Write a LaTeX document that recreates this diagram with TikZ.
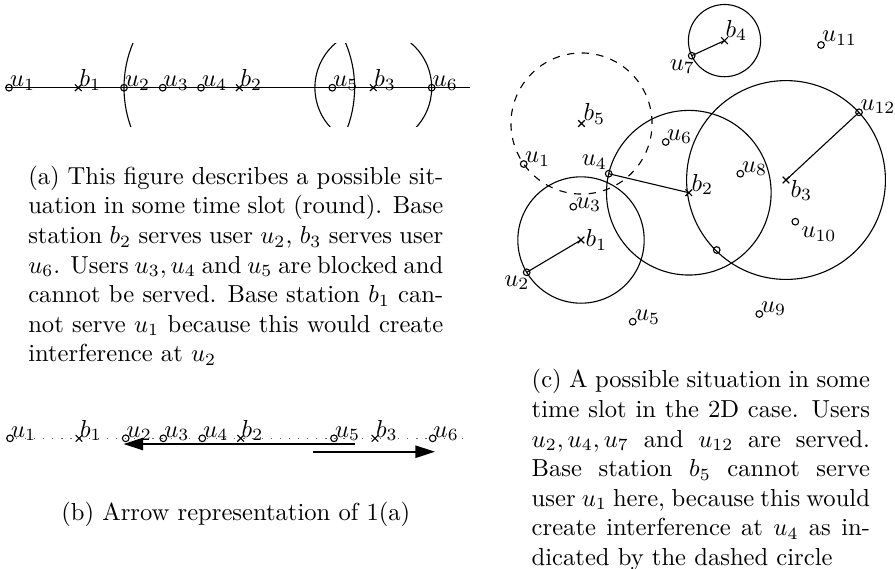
\documentclass[tikz,border=0pt]{standalone}
\usetikzlibrary{arrows.meta,shapes.misc,through}
\begin{document}
\begin{tikzpicture}[x=0.4065pt,y=-0.4065pt,line width=0.45pt,
  user/.style={circle,draw,inner sep=0pt,outer sep=0pt,minimum size=2.7pt,line width=0.45pt},
  bs/.style={cross out,draw,inner sep=0pt,outer sep=0pt,minimum size=2.7pt,line width=0.45pt},
  lab/.style={anchor=base west,inner sep=0pt,outer sep=0pt},
  labr/.style={anchor=base east,inner sep=0pt,outer sep=0pt},
  rng/.style={draw,line width=0.45pt},
  dotline/.style={line width=0.5pt,dash pattern=on 0.5pt off 3.2pt,gray!80!black},
  bigarrow/.style={line width=0.7pt,-{Triangle[length=8pt,width=5pt]}},
  capt/.style={anchor=north west,inner sep=0pt,outer sep=0pt,align=justify}]
\useasboundingbox (0,0) rectangle (895,568);

% ---------------- (a) ----------------
\coordinate (al) at (5,87.7);
\coordinate (ar) at (470,87.7);
\draw (al) -- (ar);
\node[user] (a-u1) at (9,87.7) {};
\node[bs]   (a-b1) at (78.3,87.7) {};
\node[user] (a-u2) at (124,87.7) {};
\node[user] (a-u3) at (162.7,87.7) {};
\node[user] (a-u4) at (201,87.7) {};
\node[bs]   (a-b2) at (239.3,87.7) {};
\node[user] (a-u5) at (332.3,87.7) {};
\node[bs]   (a-b3) at (373.3,87.7) {};
\node[user] (a-u6) at (431.7,87.7) {};
\node[lab] (a-u1l) at (10,86.5) {$u_1$};
\node[lab] (a-b1l) at (79.5,86.5) {$b_1$};
\node[lab] (a-u2l) at (125,86.5) {$u_2$};
\node[lab] (a-u3l) at (163.7,86.5) {$u_3$};
\node[lab] (a-u4l) at (202,86.5) {$u_4$};
\node[lab] (a-b2l) at (240.5,86.5) {$b_2$};
\node[lab] (a-u5l) at (333.3,86.5) {$u_5$};
\node[lab] (a-b3l) at (374.3,86.5) {$b_3$};
\node[lab] (a-u6l) at (432.7,86.5) {$u_6$};
\begin{scope}
  \clip (0,43.3) rectangle (480,126.7);
  \node[rng,circle through={(a-u2)}] (a-rb2) at (a-b2) {};
  \node[rng,circle through={(a-u6)}] (a-rb3) at (a-b3) {};
\end{scope}
\node[capt,text width=168.7pt] (capa) at (28.3,166)
  {(a) This figure describes a possible situation in some time slot (round). Base station $b_2$ serves user $u_2$, $b_3$ serves user $u_6$. Users $u_3, u_4$ and $u_5$ are blocked and cannot be served. Base station $b_1$ cannot serve $u_1$ because this would create interference at $u_2$};

% ---------------- (b) ----------------
\coordinate (bl) at (6.7,438.3);
\coordinate (br) at (465,438.3);
\draw[dotline] (bl) -- (br);
\node[user] (b-u1) at (10,438.3) {};
\node[bs]   (b-b1) at (79,438.3) {};
\node[user] (b-u2) at (125.7,438.3) {};
\node[user] (b-u3) at (163.3,438.3) {};
\node[user] (b-u4) at (202.3,438.3) {};
\node[bs]   (b-b2) at (240.7,438.3) {};
\node[user] (b-u5) at (334,438.3) {};
\node[bs]   (b-b3) at (375,438.3) {};
\node[user] (b-u6) at (432.7,438.3) {};
\node[lab] (b-u1l) at (11,437) {$u_1$};
\node[lab] (b-b1l) at (80,437) {$b_1$};
\node[lab] (b-u2l) at (126.7,437) {$u_2$};
\node[lab] (b-u3l) at (164.3,437) {$u_3$};
\node[lab] (b-u4l) at (203.3,437) {$u_4$};
\node[lab] (b-b2l) at (241.7,437) {$b_2$};
\node[lab] (b-u5l) at (335,437) {$u_5$};
\node[lab] (b-b3l) at (376,437) {$b_3$};
\node[lab] (b-u6l) at (433.7,437) {$u_6$};
\coordinate (ar1s) at (355,444);
\coordinate (ar1e) at (123.5,444);
\coordinate (ar2s) at (313.3,451.7);
\coordinate (ar2e) at (435,451.7);
\draw[bigarrow] (ar1s) -- (ar1e);
\draw[bigarrow] (ar2s) -- (ar2e);
\node[anchor=base,inner sep=0pt] (capb) at (235.8,520) {(b) Arrow representation of 1(a)};

% ---------------- (c) ----------------
\node[bs]   (b4) at (724.5,40.6) {};
\node[user] (u7) at (691.7,55.7) {};
\node[user] (u11) at (821,45) {};
\node[bs]   (b5) at (581.5,123.5) {};
\node[user] (u1) at (523.7,164) {};
\node[user] (u4) at (608.7,173.7) {};
\node[bs]   (b2) at (688.8,192.7) {};
\node[bs]   (b3) at (786,180) {};
\node[user] (u12) at (859,112.3) {};
\node[user] (u6) at (665.7,142) {};
\node[user] (u8) at (740.3,173.7) {};
\node[user] (u3) at (573.3,206.7) {};
\node[bs]   (b1) at (581,240) {};
\node[user] (u2) at (526.7,272.3) {};
\node[user] (u10) at (795.3,221.7) {};
\node[user] (ux) at (716.7,250) {};
\node[user] (u5) at (632.7,321.7) {};
\node[user] (u9) at (759.3,314) {};

\node[rng,circle through={(u7)}] (rb4) at (b4) {};
\node[rng,dashed,circle through={(u1)}] (rb5) at (b5) {};
\node[rng,circle through={(u4)}] (rb2) at (b2) {};
\node[rng,circle through={(u12)}] (rb3) at (b3) {};
\node[rng,circle through={(u2)}] (rb1) at (b1) {};

\draw (u7.center) -- (b4.center);
\draw (u4.center) -- (b2.center);
\draw (u2.center) -- (b1.center);
\draw (b3.center) -- (u12.center);

\node[lab]  (b4l) at (725.5,37) {$b_4$};
\node[labr] (u7l) at (695,70) {$u_7$};
\node[lab]  (u11l) at (822,41.7) {$u_{11}$};
\node[lab]  (b5l) at (583.5,120.5) {$b_5$};
\node[lab]  (u1l) at (525,162.7) {$u_1$};
\node[labr] (u4l) at (607,165.5) {$u_4$};
\node[lab]  (b2l) at (691.5,191) {$b_2$};
\node[lab]  (b3l) at (790.5,197) {$b_3$};
\node[lab]  (u12l) at (860.5,110) {$u_{12}$};
\node[lab]  (u6l) at (667,140) {$u_6$};
\node[lab]  (u8l) at (742,172) {$u_8$};
\node[lab]  (u3l) at (576,208) {$u_3$};
\node[lab]  (b1l) at (585.5,246.5) {$b_1$};
\node[labr] (u2l) at (529.5,286) {$u_2$};
\node[lab]  (u10l) at (801.5,237.5) {$u_{10}$};
\node[lab]  (u5l) at (635,320.5) {$u_5$};
\node[lab]  (u9l) at (761,312) {$u_9$};

\node[capt,text width=137.5pt] (capc) at (531.7,369.5)
  {(c) A possible situation in some\linebreak{} time slot in the 2D case. Users\linebreak{} $u_2, u_4, u_7$ and $u_{12}$ are served.\linebreak{} Base station $b_5$ cannot serve\linebreak{} user $u_1$ here, because this would\linebreak{} create interference at $u_4$ as in-\linebreak{}dicated by the dashed circle};
\end{tikzpicture}
\end{document}
